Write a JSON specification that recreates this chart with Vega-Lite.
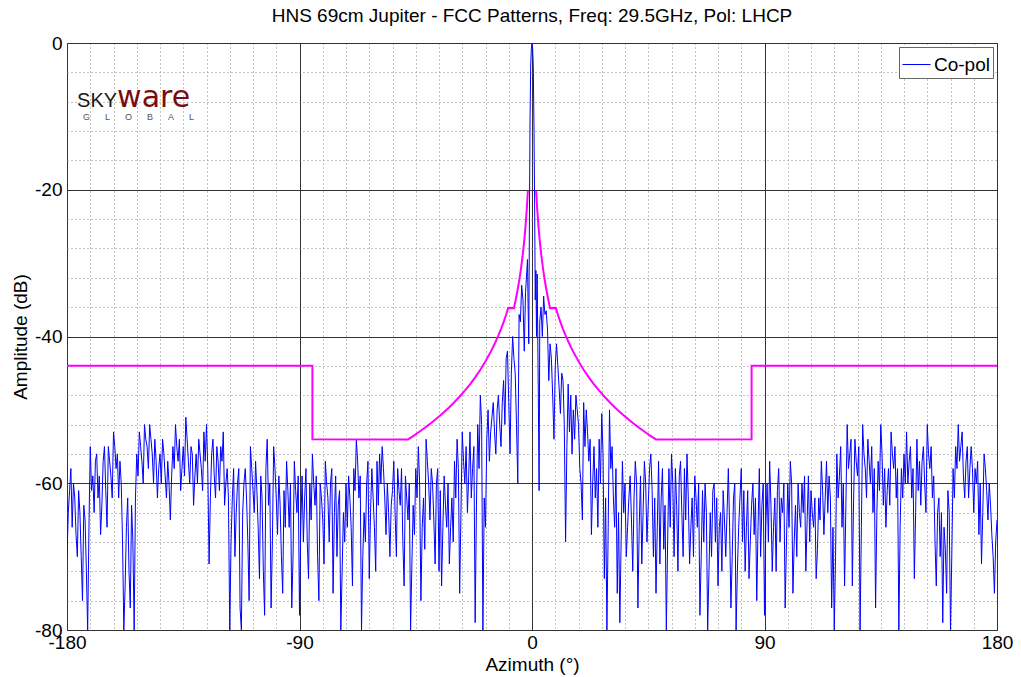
{
"$schema":"https://vega.github.io/schema/vega-lite/v6.json",
"width":930,"height":587,
"autosize":{"type":"none"},
"padding":{"left":67,"top":43,"right":24,"bottom":47},
"config":{"view":{"stroke":"#555","strokeWidth":1},"font":"Liberation Sans"},
"title":{"text":"HNS 69cm Jupiter - FCC Patterns, Freq: 29.5GHz, Pol: LHCP","fontSize":19,"font":"Liberation Sans","fontWeight":"normal","color":"#000","anchor":"middle","frame":"group","offset":8},
"datasets":{
"copol":[
{"az":-180,"dB":-70},{"az":-179.5,"dB":-64},{"az":-179,"dB":-61},{"az":-178.5,"dB":-58},{"az":-178,"dB":-66},{"az":-177.5,"dB":-60},{"az":-177,"dB":-62},{"az":-176.5,"dB":-67},{"az":-176,"dB":-70},{"az":-175.5,"dB":-61},
{"az":-175,"dB":-64},{"az":-174.5,"dB":-70},{"az":-174,"dB":-76},{"az":-173.5,"dB":-63},{"az":-173,"dB":-65},{"az":-172.5,"dB":-72},{"az":-172,"dB":-80},{"az":-171.5,"dB":-66},{"az":-171,"dB":-55},{"az":-170.5,"dB":-61},
{"az":-170,"dB":-59},{"az":-169.5,"dB":-64},{"az":-169,"dB":-57},{"az":-168.5,"dB":-56},{"az":-168,"dB":-62},{"az":-167.5,"dB":-59},{"az":-167,"dB":-67},{"az":-166.5,"dB":-63},{"az":-166,"dB":-57},{"az":-165.5,"dB":-55},
{"az":-165,"dB":-61},{"az":-164.5,"dB":-66},{"az":-164,"dB":-55},{"az":-163.5,"dB":-57},{"az":-163,"dB":-59},{"az":-162.5,"dB":-62},{"az":-162,"dB":-53},{"az":-161.5,"dB":-55},{"az":-161,"dB":-58},{"az":-160.5,"dB":-56},
{"az":-160,"dB":-62},{"az":-159.5,"dB":-57},{"az":-159,"dB":-60},{"az":-158.5,"dB":-68},{"az":-158,"dB":-80},{"az":-157.5,"dB":-74},{"az":-157,"dB":-66},{"az":-156.5,"dB":-62},{"az":-156,"dB":-72},{"az":-155.5,"dB":-77},
{"az":-155,"dB":-63},{"az":-154.5,"dB":-68},{"az":-154,"dB":-80},{"az":-153.5,"dB":-62},{"az":-153,"dB":-56},{"az":-152.5,"dB":-59},{"az":-152,"dB":-53},{"az":-151.5,"dB":-55},{"az":-151,"dB":-57},{"az":-150.5,"dB":-60},
{"az":-150,"dB":-52},{"az":-149.5,"dB":-54},{"az":-149,"dB":-55},{"az":-148.5,"dB":-58},{"az":-148,"dB":-52},{"az":-147.5,"dB":-54},{"az":-147,"dB":-56},{"az":-146.5,"dB":-60},{"az":-146,"dB":-54},{"az":-145.5,"dB":-57},
{"az":-145,"dB":-62},{"az":-144.5,"dB":-58},{"az":-144,"dB":-56},{"az":-143.5,"dB":-60},{"az":-143,"dB":-54},{"az":-142.5,"dB":-56},{"az":-142,"dB":-59},{"az":-141.5,"dB":-62},{"az":-141,"dB":-57},{"az":-140.5,"dB":-60},
{"az":-140,"dB":-65},{"az":-139.5,"dB":-59},{"az":-139,"dB":-55},{"az":-138.5,"dB":-58},{"az":-138,"dB":-52},{"az":-137.5,"dB":-55},{"az":-137,"dB":-57},{"az":-136.5,"dB":-54},{"az":-136,"dB":-61},{"az":-135.5,"dB":-58},
{"az":-135,"dB":-55},{"az":-134.5,"dB":-59},{"az":-134,"dB":-51},{"az":-133.5,"dB":-54},{"az":-133,"dB":-57},{"az":-132.5,"dB":-60},{"az":-132,"dB":-55},{"az":-131.5,"dB":-56},{"az":-131,"dB":-63},{"az":-130.5,"dB":-59},
{"az":-130,"dB":-56},{"az":-129.5,"dB":-60},{"az":-129,"dB":-54},{"az":-128.5,"dB":-56},{"az":-128,"dB":-58},{"az":-127.5,"dB":-61},{"az":-127,"dB":-53},{"az":-126.5,"dB":-57},{"az":-126,"dB":-52},{"az":-125.5,"dB":-58},
{"az":-125,"dB":-71},{"az":-124.5,"dB":-62},{"az":-124,"dB":-56},{"az":-123.5,"dB":-54},{"az":-123,"dB":-59},{"az":-122.5,"dB":-62},{"az":-122,"dB":-55},{"az":-121.5,"dB":-57},{"az":-121,"dB":-61},{"az":-120.5,"dB":-55},
{"az":-120,"dB":-57},{"az":-119.5,"dB":-53},{"az":-119,"dB":-63},{"az":-118.5,"dB":-60},{"az":-118,"dB":-58},{"az":-117.5,"dB":-62},{"az":-117,"dB":-80},{"az":-116.5,"dB":-68},{"az":-116,"dB":-62},{"az":-115.5,"dB":-58},
{"az":-115,"dB":-70},{"az":-114.5,"dB":-64},{"az":-114,"dB":-60},{"az":-113.5,"dB":-58},{"az":-113,"dB":-77},{"az":-112.5,"dB":-80},{"az":-112,"dB":-64},{"az":-111.5,"dB":-60},{"az":-111,"dB":-58},{"az":-110.5,"dB":-62},
{"az":-110,"dB":-68},{"az":-109.5,"dB":-76},{"az":-109,"dB":-55},{"az":-108.5,"dB":-58},{"az":-108,"dB":-61},{"az":-107.5,"dB":-64},{"az":-107,"dB":-57},{"az":-106.5,"dB":-61},{"az":-106,"dB":-66},{"az":-105.5,"dB":-73},
{"az":-105,"dB":-59},{"az":-104.5,"dB":-62},{"az":-104,"dB":-72},{"az":-103.5,"dB":-78},{"az":-103,"dB":-58},{"az":-102.5,"dB":-54},{"az":-102,"dB":-63},{"az":-101.5,"dB":-60},{"az":-101,"dB":-77},{"az":-100.5,"dB":-68},
{"az":-100,"dB":-55},{"az":-99.5,"dB":-58},{"az":-99,"dB":-62},{"az":-98.5,"dB":-67},{"az":-98,"dB":-59},{"az":-97.5,"dB":-63},{"az":-97,"dB":-70},{"az":-96.5,"dB":-75},{"az":-96,"dB":-61},{"az":-95.5,"dB":-66},
{"az":-95,"dB":-57},{"az":-94.5,"dB":-61},{"az":-94,"dB":-66},{"az":-93.5,"dB":-60},{"az":-93,"dB":-77},{"az":-92.5,"dB":-70},{"az":-92,"dB":-57},{"az":-91.5,"dB":-61},{"az":-91,"dB":-64},{"az":-90.5,"dB":-59},
{"az":-90,"dB":-78},{"az":-89.5,"dB":-66},{"az":-89,"dB":-59},{"az":-88.5,"dB":-68},{"az":-88,"dB":-62},{"az":-87.5,"dB":-58},{"az":-87,"dB":-68},{"az":-86.5,"dB":-73},{"az":-86,"dB":-60},{"az":-85.5,"dB":-65},
{"az":-85,"dB":-56},{"az":-84.5,"dB":-60},{"az":-84,"dB":-63},{"az":-83.5,"dB":-59},{"az":-83,"dB":-70},{"az":-82.5,"dB":-76},{"az":-82,"dB":-60},{"az":-81.5,"dB":-62},{"az":-81,"dB":-65},{"az":-80.5,"dB":-71},
{"az":-80,"dB":-57},{"az":-79.5,"dB":-60},{"az":-79,"dB":-62},{"az":-78.5,"dB":-68},{"az":-78,"dB":-60},{"az":-77.5,"dB":-58},{"az":-77,"dB":-75},{"az":-76.5,"dB":-64},{"az":-76,"dB":-59},{"az":-75.5,"dB":-70},
{"az":-75,"dB":-63},{"az":-74.5,"dB":-61},{"az":-74,"dB":-80},{"az":-73.5,"dB":-72},{"az":-73,"dB":-64},{"az":-72.5,"dB":-68},{"az":-72,"dB":-60},{"az":-71.5,"dB":-66},{"az":-71,"dB":-59},{"az":-70.5,"dB":-62},
{"az":-70,"dB":-66},{"az":-69.5,"dB":-74},{"az":-69,"dB":-58},{"az":-68.5,"dB":-61},{"az":-68,"dB":-54},{"az":-67.5,"dB":-57},{"az":-67,"dB":-62},{"az":-66.5,"dB":-59},{"az":-66,"dB":-80},{"az":-65.5,"dB":-70},
{"az":-65,"dB":-64},{"az":-64.5,"dB":-68},{"az":-64,"dB":-60},{"az":-63.5,"dB":-57},{"az":-63,"dB":-73},{"az":-62.5,"dB":-64},{"az":-62,"dB":-58},{"az":-61.5,"dB":-62},{"az":-61,"dB":-66},{"az":-60.5,"dB":-72},
{"az":-60,"dB":-57},{"az":-59.5,"dB":-63},{"az":-59,"dB":-56},{"az":-58.5,"dB":-60},{"az":-58,"dB":-55},{"az":-57.5,"dB":-58},{"az":-57,"dB":-62},{"az":-56.5,"dB":-67},{"az":-56,"dB":-60},{"az":-55.5,"dB":-64},
{"az":-55,"dB":-70},{"az":-54.5,"dB":-63},{"az":-54,"dB":-61},{"az":-53.5,"dB":-57},{"az":-53,"dB":-64},{"az":-52.5,"dB":-70},{"az":-52,"dB":-58},{"az":-51.5,"dB":-61},{"az":-51,"dB":-63},{"az":-50.5,"dB":-58},
{"az":-50,"dB":-68},{"az":-49.5,"dB":-74},{"az":-49,"dB":-59},{"az":-48.5,"dB":-62},{"az":-48,"dB":-65},{"az":-47.5,"dB":-60},{"az":-47,"dB":-80},{"az":-46.5,"dB":-71},{"az":-46,"dB":-63},{"az":-45.5,"dB":-67},
{"az":-45,"dB":-58},{"az":-44.5,"dB":-62},{"az":-44,"dB":-55},{"az":-43.5,"dB":-60},{"az":-43,"dB":-76},{"az":-42.5,"dB":-66},{"az":-42,"dB":-62},{"az":-41.5,"dB":-69},{"az":-41,"dB":-54},{"az":-40.5,"dB":-57},
{"az":-40,"dB":-60},{"az":-39.5,"dB":-65},{"az":-39,"dB":-58},{"az":-38.5,"dB":-60},{"az":-38,"dB":-65},{"az":-37.5,"dB":-71},{"az":-37,"dB":-60},{"az":-36.5,"dB":-58},{"az":-36,"dB":-72},{"az":-35.5,"dB":-61},
{"az":-35,"dB":-74},{"az":-34.5,"dB":-66},{"az":-34,"dB":-59},{"az":-33.5,"dB":-63},{"az":-33,"dB":-66},{"az":-32.5,"dB":-60},{"az":-32,"dB":-71},{"az":-31.5,"dB":-66},{"az":-31,"dB":-62},{"az":-30.5,"dB":-68},
{"az":-30,"dB":-57},{"az":-29.5,"dB":-62},{"az":-29,"dB":-54},{"az":-28.5,"dB":-58},{"az":-28,"dB":-75},{"az":-27.5,"dB":-64},{"az":-27,"dB":-53},{"az":-26.5,"dB":-57},{"az":-26,"dB":-60},{"az":-25.5,"dB":-55},
{"az":-25,"dB":-64},{"az":-24.5,"dB":-59},{"az":-24,"dB":-53},{"az":-23.5,"dB":-62},{"az":-23,"dB":-58},{"az":-22.5,"dB":-55},{"az":-22,"dB":-79},{"az":-21.5,"dB":-63},{"az":-21,"dB":-52},{"az":-20.5,"dB":-58},
{"az":-20,"dB":-48},{"az":-19.5,"dB":-52},{"az":-19,"dB":-80},{"az":-18.5,"dB":-62},{"az":-18,"dB":-66},{"az":-17.5,"dB":-54},{"az":-17,"dB":-50},{"az":-16.5,"dB":-57},{"az":-16,"dB":-53},{"az":-15.5,"dB":-51},
{"az":-15,"dB":-49},{"az":-14.5,"dB":-53},{"az":-14,"dB":-56},{"az":-13.5,"dB":-50},{"az":-13,"dB":-48},{"az":-12.5,"dB":-52},{"az":-12,"dB":-55},{"az":-11.5,"dB":-49},{"az":-11,"dB":-46},{"az":-10.5,"dB":-52},
{"az":-10,"dB":-43},{"az":-9.5,"dB":-42},{"az":-9,"dB":-49},{"az":-8.5,"dB":-56},{"az":-8,"dB":-45},{"az":-7.5,"dB":-40},{"az":-7,"dB":-43},{"az":-6.5,"dB":-45},{"az":-6,"dB":-52},{"az":-5.5,"dB":-60},
{"az":-5,"dB":-37},{"az":-4.5,"dB":-38},{"az":-4,"dB":-33},{"az":-3.5,"dB":-35},{"az":-3,"dB":-42},{"az":-2.5,"dB":-34},{"az":-2,"dB":-31},{"az":-1.75,"dB":-29.5},{"az":-1.5,"dB":-36},{"az":-1.25,"dB":-41},
{"az":-1,"dB":-24},{"az":-0.75,"dB":-10},{"az":-0.5,"dB":-3},{"az":-0.25,"dB":-0.8},{"az":0,"dB":0},{"az":0.25,"dB":-0.8},{"az":0.5,"dB":-3.2},{"az":0.75,"dB":-11},{"az":1,"dB":-21},{"az":1.25,"dB":-35},
{"az":1.5,"dB":-31},{"az":1.75,"dB":-40},{"az":2,"dB":-31.5},{"az":2.5,"dB":-50},{"az":2.75,"dB":-61},{"az":3,"dB":-38},{"az":3.5,"dB":-36},{"az":4,"dB":-40},{"az":4.5,"dB":-34.5},{"az":5,"dB":-37},
{"az":5.5,"dB":-36.5},{"az":6,"dB":-39},{"az":6.5,"dB":-46},{"az":7,"dB":-41},{"az":7.5,"dB":-43},{"az":8,"dB":-48},{"az":8.5,"dB":-54},{"az":9,"dB":-44},{"az":9.5,"dB":-41},{"az":10,"dB":-44},
{"az":10.5,"dB":-47},{"az":11,"dB":-50.5},{"az":11.5,"dB":-45},{"az":12,"dB":-46},{"az":12.5,"dB":-52},{"az":13,"dB":-68},{"az":13.5,"dB":-55},{"az":14,"dB":-46.5},{"az":14.5,"dB":-53},{"az":15,"dB":-48},
{"az":15.5,"dB":-56},{"az":16,"dB":-50},{"az":16.5,"dB":-54},{"az":17,"dB":-48},{"az":17.5,"dB":-50},{"az":18,"dB":-52},{"az":18.5,"dB":-58},{"az":19,"dB":-60},{"az":19.5,"dB":-65},{"az":20,"dB":-49},
{"az":20.5,"dB":-55},{"az":21,"dB":-50},{"az":21.5,"dB":-53},{"az":22,"dB":-57},{"az":22.5,"dB":-54},{"az":23,"dB":-67},{"az":23.5,"dB":-60},{"az":24,"dB":-55},{"az":24.5,"dB":-62},{"az":25,"dB":-58},
{"az":25.5,"dB":-66},{"az":26,"dB":-54},{"az":26.5,"dB":-60},{"az":27,"dB":-50.5},{"az":27.5,"dB":-56},{"az":28,"dB":-73},{"az":28.5,"dB":-62},{"az":29,"dB":-80},{"az":29.5,"dB":-66},{"az":30,"dB":-50},
{"az":30.5,"dB":-58},{"az":31,"dB":-55},{"az":31.5,"dB":-62},{"az":32,"dB":-66},{"az":32.5,"dB":-58},{"az":33,"dB":-75},{"az":33.5,"dB":-64},{"az":34,"dB":-79},{"az":34.5,"dB":-68},{"az":35,"dB":-57},
{"az":35.5,"dB":-64},{"az":36,"dB":-60},{"az":36.5,"dB":-70},{"az":37,"dB":-66},{"az":37.5,"dB":-62},{"az":38,"dB":-59},{"az":38.5,"dB":-65},{"az":39,"dB":-72},{"az":39.5,"dB":-62},{"az":40,"dB":-57},
{"az":40.5,"dB":-60},{"az":41,"dB":-77},{"az":41.5,"dB":-66},{"az":42,"dB":-59},{"az":42.5,"dB":-71},{"az":43,"dB":-64},{"az":43.5,"dB":-57},{"az":44,"dB":-60},{"az":44.5,"dB":-68},{"az":45,"dB":-63},
{"az":45.5,"dB":-58},{"az":46,"dB":-56},{"az":46.5,"dB":-61},{"az":47,"dB":-70},{"az":47.5,"dB":-62},{"az":48,"dB":-75},{"az":48.5,"dB":-66},{"az":49,"dB":-57},{"az":49.5,"dB":-71},{"az":50,"dB":-62},
{"az":50.5,"dB":-58},{"az":51,"dB":-69},{"az":51.5,"dB":-63},{"az":52,"dB":-80},{"az":52.5,"dB":-68},{"az":53,"dB":-58},{"az":53.5,"dB":-66},{"az":54,"dB":-56},{"az":54.5,"dB":-60},{"az":55,"dB":-70},
{"az":55.5,"dB":-58},{"az":56,"dB":-63},{"az":56.5,"dB":-72},{"az":57,"dB":-59},{"az":57.5,"dB":-57},{"az":58,"dB":-64},{"az":58.5,"dB":-70},{"az":59,"dB":-58},{"az":59.5,"dB":-65},{"az":60,"dB":-56},
{"az":60.5,"dB":-62},{"az":61,"dB":-71},{"az":61.5,"dB":-66},{"az":62,"dB":-62},{"az":62.5,"dB":-70},{"az":63,"dB":-59},{"az":63.5,"dB":-62},{"az":64,"dB":-66},{"az":64.5,"dB":-60},{"az":65,"dB":-78},
{"az":65.5,"dB":-70},{"az":66,"dB":-61},{"az":66.5,"dB":-68},{"az":67,"dB":-60},{"az":67.5,"dB":-64},{"az":68,"dB":-80},{"az":68.5,"dB":-72},{"az":69,"dB":-64},{"az":69.5,"dB":-70},{"az":70,"dB":-61},
{"az":70.5,"dB":-60},{"az":71,"dB":-68},{"az":71.5,"dB":-62},{"az":72,"dB":-74},{"az":72.5,"dB":-66},{"az":73,"dB":-64},{"az":73.5,"dB":-72},{"az":74,"dB":-61},{"az":74.5,"dB":-65},{"az":75,"dB":-70},
{"az":75.5,"dB":-64},{"az":76,"dB":-58},{"az":76.5,"dB":-66},{"az":77,"dB":-77},{"az":77.5,"dB":-70},{"az":78,"dB":-62},{"az":78.5,"dB":-60},{"az":79,"dB":-80},{"az":79.5,"dB":-72},{"az":80,"dB":-66},
{"az":80.5,"dB":-62},{"az":81,"dB":-58},{"az":81.5,"dB":-68},{"az":82,"dB":-61},{"az":82.5,"dB":-72},{"az":83,"dB":-66},{"az":83.5,"dB":-61},{"az":84,"dB":-73},{"az":84.5,"dB":-68},{"az":85,"dB":-63},
{"az":85.5,"dB":-60},{"az":86,"dB":-67},{"az":86.5,"dB":-62},{"az":87,"dB":-76},{"az":87.5,"dB":-66},{"az":88,"dB":-58},{"az":88.5,"dB":-70},{"az":89,"dB":-63},{"az":89.5,"dB":-60},{"az":90,"dB":-78},
{"az":90.5,"dB":-66},{"az":91,"dB":-60},{"az":91.5,"dB":-68},{"az":92,"dB":-57},{"az":92.5,"dB":-63},{"az":93,"dB":-72},{"az":93.5,"dB":-66},{"az":94,"dB":-62},{"az":94.5,"dB":-72},{"az":95,"dB":-61},
{"az":95.5,"dB":-58},{"az":96,"dB":-68},{"az":96.5,"dB":-62},{"az":97,"dB":-64},{"az":97.5,"dB":-60},{"az":98,"dB":-77},{"az":98.5,"dB":-68},{"az":99,"dB":-60},{"az":99.5,"dB":-66},{"az":100,"dB":-57},
{"az":100.5,"dB":-60},{"az":101,"dB":-75},{"az":101.5,"dB":-68},{"az":102,"dB":-63},{"az":102.5,"dB":-70},{"az":103,"dB":-60},{"az":103.5,"dB":-64},{"az":104,"dB":-66},{"az":104.5,"dB":-60},{"az":105,"dB":-64},
{"az":105.5,"dB":-59},{"az":106,"dB":-72},{"az":106.5,"dB":-65},{"az":107,"dB":-59},{"az":107.5,"dB":-68},{"az":108,"dB":-61},{"az":108.5,"dB":-64},{"az":109,"dB":-66},{"az":109.5,"dB":-62},{"az":110,"dB":-73},
{"az":110.5,"dB":-69},{"az":111,"dB":-62},{"az":111.5,"dB":-65},{"az":112,"dB":-57},{"az":112.5,"dB":-61},{"az":113,"dB":-67},{"az":113.5,"dB":-62},{"az":114,"dB":-57},{"az":114.5,"dB":-64},{"az":115,"dB":-59},
{"az":115.5,"dB":-62},{"az":116,"dB":-77},{"az":116.5,"dB":-66},{"az":117,"dB":-80},{"az":117.5,"dB":-70},{"az":118,"dB":-56},{"az":118.5,"dB":-62},{"az":119,"dB":-59},{"az":119.5,"dB":-55},{"az":120,"dB":-66},
{"az":120.5,"dB":-60},{"az":121,"dB":-74},{"az":121.5,"dB":-63},{"az":122,"dB":-52},{"az":122.5,"dB":-58},{"az":123,"dB":-56},{"az":123.5,"dB":-54},{"az":124,"dB":-74},{"az":124.5,"dB":-62},{"az":125,"dB":-54},
{"az":125.5,"dB":-57},{"az":126,"dB":-59},{"az":126.5,"dB":-55},{"az":127,"dB":-80},{"az":127.5,"dB":-66},{"az":128,"dB":-52},{"az":128.5,"dB":-56},{"az":129,"dB":-58},{"az":129.5,"dB":-62},{"az":130,"dB":-54},
{"az":130.5,"dB":-57},{"az":131,"dB":-60},{"az":131.5,"dB":-55},{"az":132,"dB":-64},{"az":132.5,"dB":-58},{"az":133,"dB":-77},{"az":133.5,"dB":-64},{"az":134,"dB":-57},{"az":134.5,"dB":-61},{"az":135,"dB":-52},
{"az":135.5,"dB":-56},{"az":136,"dB":-63},{"az":136.5,"dB":-58},{"az":137,"dB":-66},{"az":137.5,"dB":-61},{"az":138,"dB":-58},{"az":138.5,"dB":-63},{"az":139,"dB":-53},{"az":139.5,"dB":-56},{"az":140,"dB":-58},
{"az":140.5,"dB":-55},{"az":141,"dB":-62},{"az":141.5,"dB":-58},{"az":142,"dB":-80},{"az":142.5,"dB":-66},{"az":143,"dB":-58},{"az":143.5,"dB":-62},{"az":144,"dB":-56},{"az":144.5,"dB":-60},{"az":145,"dB":-53},
{"az":145.5,"dB":-60},{"az":146,"dB":-57},{"az":146.5,"dB":-55},{"az":147,"dB":-62},{"az":147.5,"dB":-58},{"az":148,"dB":-73},{"az":148.5,"dB":-64},{"az":149,"dB":-54},{"az":149.5,"dB":-61},{"az":150,"dB":-57},
{"az":150.5,"dB":-63},{"az":151,"dB":-57},{"az":151.5,"dB":-55},{"az":152,"dB":-60},{"az":152.5,"dB":-64},{"az":153,"dB":-52},{"az":153.5,"dB":-56},{"az":154,"dB":-58},{"az":154.5,"dB":-55},{"az":155,"dB":-62},
{"az":155.5,"dB":-59},{"az":156,"dB":-68},{"az":156.5,"dB":-74},{"az":157,"dB":-64},{"az":157.5,"dB":-62},{"az":158,"dB":-70},{"az":158.5,"dB":-64},{"az":159,"dB":-79},{"az":159.5,"dB":-66},{"az":160,"dB":-69},
{"az":160.5,"dB":-75},{"az":161,"dB":-61},{"az":161.5,"dB":-64},{"az":162,"dB":-80},{"az":162.5,"dB":-70},{"az":163,"dB":-58},{"az":163.5,"dB":-62},{"az":164,"dB":-55},{"az":164.5,"dB":-58},{"az":165,"dB":-52},
{"az":165.5,"dB":-57},{"az":166,"dB":-55},{"az":166.5,"dB":-53},{"az":167,"dB":-59},{"az":167.5,"dB":-62},{"az":168,"dB":-57},{"az":168.5,"dB":-55},{"az":169,"dB":-62},{"az":169.5,"dB":-58},{"az":170,"dB":-55},
{"az":170.5,"dB":-58},{"az":171,"dB":-64},{"az":171.5,"dB":-58},{"az":172,"dB":-60},{"az":172.5,"dB":-57},{"az":173,"dB":-67},{"az":173.5,"dB":-60},{"az":174,"dB":-71},{"az":174.5,"dB":-64},{"az":175,"dB":-56},
{"az":175.5,"dB":-58},{"az":176,"dB":-61},{"az":176.5,"dB":-65},{"az":177,"dB":-60},{"az":177.5,"dB":-63},{"az":178,"dB":-67},{"az":178.5,"dB":-70},{"az":179,"dB":-75},{"az":179.5,"dB":-68},{"az":180,"dB":-65}
],
"mask":[
{"az":-180,"dB":-44,"side":"L"},{"az":-85.01,"dB":-44,"side":"L"},{"az":-85,"dB":-54,"side":"L"},{"az":-48,"dB":-54.03,"side":"L"},{"az":-46,"dB":-53.57,"side":"L"},{"az":-44,"dB":-53.09,"side":"L"},{"az":-42,"dB":-52.58,"side":"L"},{"az":-40,"dB":-52.05,"side":"L"},{"az":-38,"dB":-51.49,"side":"L"},{"az":-36,"dB":-50.91,"side":"L"},{"az":-34,"dB":-50.29,"side":"L"},{"az":-32,"dB":-49.63,"side":"L"},{"az":-30,"dB":-48.93,"side":"L"},{"az":-28,"dB":-48.18,"side":"L"},{"az":-26,"dB":-47.37,"side":"L"},{"az":-24,"dB":-46.51,"side":"L"},{"az":-22,"dB":-45.56,"side":"L"},{"az":-20,"dB":-44.53,"side":"L"},{"az":-18,"dB":-43.38,"side":"L"},{"az":-16,"dB":-42.1,"side":"L"},{"az":-15,"dB":-41.4,"side":"L"},{"az":-14,"dB":-40.65,"side":"L"},{"az":-13,"dB":-39.85,"side":"L"},{"az":-12,"dB":-38.98,"side":"L"},{"az":-11,"dB":-38.03,"side":"L"},{"az":-10,"dB":-37,"side":"L"},{"az":-9.2,"dB":-36.1,"side":"L"},{"az":-7,"dB":-36.13,"side":"L"},{"az":-6.5,"dB":-35.32,"side":"L"},{"az":-6,"dB":-34.45,"side":"L"},{"az":-5.5,"dB":-33.51,"side":"L"},{"az":-5,"dB":-32.47,"side":"L"},{"az":-4.5,"dB":-31.33,"side":"L"},{"az":-4,"dB":-30.05,"side":"L"},{"az":-3.5,"dB":-28.6,"side":"L"},{"az":-3,"dB":-26.93,"side":"L"},{"az":-2.5,"dB":-24.95,"side":"L"},{"az":-2,"dB":-22.53,"side":"L"},{"az":-1.6,"dB":-20.1,"side":"L"},
{"az":1.6,"dB":-20.1,"side":"R"},{"az":2,"dB":-22.53,"side":"R"},{"az":2.5,"dB":-24.95,"side":"R"},{"az":3,"dB":-26.93,"side":"R"},{"az":3.5,"dB":-28.6,"side":"R"},{"az":4,"dB":-30.05,"side":"R"},{"az":4.5,"dB":-31.33,"side":"R"},{"az":5,"dB":-32.47,"side":"R"},{"az":5.5,"dB":-33.51,"side":"R"},{"az":6,"dB":-34.45,"side":"R"},{"az":6.5,"dB":-35.32,"side":"R"},{"az":7,"dB":-36.13,"side":"R"},{"az":9.2,"dB":-36.1,"side":"R"},{"az":10,"dB":-37,"side":"R"},{"az":11,"dB":-38.03,"side":"R"},{"az":12,"dB":-38.98,"side":"R"},{"az":13,"dB":-39.85,"side":"R"},{"az":14,"dB":-40.65,"side":"R"},{"az":15,"dB":-41.4,"side":"R"},{"az":16,"dB":-42.1,"side":"R"},{"az":18,"dB":-43.38,"side":"R"},{"az":20,"dB":-44.53,"side":"R"},{"az":22,"dB":-45.56,"side":"R"},{"az":24,"dB":-46.51,"side":"R"},{"az":26,"dB":-47.37,"side":"R"},{"az":28,"dB":-48.18,"side":"R"},{"az":30,"dB":-48.93,"side":"R"},{"az":32,"dB":-49.63,"side":"R"},{"az":34,"dB":-50.29,"side":"R"},{"az":36,"dB":-50.91,"side":"R"},{"az":38,"dB":-51.49,"side":"R"},{"az":40,"dB":-52.05,"side":"R"},{"az":42,"dB":-52.58,"side":"R"},{"az":44,"dB":-53.09,"side":"R"},{"az":46,"dB":-53.57,"side":"R"},{"az":48,"dB":-54.03,"side":"R"},{"az":85,"dB":-54,"side":"R"},{"az":85.01,"dB":-44,"side":"R"},{"az":180,"dB":-44,"side":"R"}
]
},
"layer":[
{"data":{"name":"copol"},
 "mark":{"type":"line","strokeWidth":1,"clip":true},
 "encoding":{
  "x":{"field":"az","type":"quantitative","scale":{"domain":[-180,180],"nice":false,"zero":false},
       "axis":{"orient":"bottom","values":[-171,-162,-153,-144,-135,-126,-117,-108,-99,-81,-72,-63,-54,-45,-36,-27,-18,-9,9,18,27,36,45,54,63,72,81,99,108,117,126,135,144,153,162,171],"grid":true,"gridColor":"#888","gridDash":[1,3],"gridWidth":1,"labels":false,"ticks":false,"domain":false,"title":null}},
  "y":{"field":"dB","type":"quantitative","scale":{"domain":[-80,0],"nice":false,"zero":false},
       "axis":{"orient":"left","values":[-76,-72,-68,-64,-56,-52,-48,-44,-36,-32,-28,-24,-16,-12,-8,-4],"grid":true,"gridColor":"#888","gridDash":[1,3],"gridWidth":1,"labels":false,"ticks":false,"domain":false,"title":null}},
  "color":{"datum":"Co-pol","type":"nominal","scale":{"range":["#0000ff"]},
       "legend":{"orient":"top-right","offset":4,"title":null,"symbolType":"stroke","symbolSize":784,"symbolStrokeWidth":1,"labelFontSize":19,"labelFont":"Liberation Sans","labelColor":"#000","strokeColor":"#666","fillColor":"#fff","padding":3,"labelOffset":3}}
 }},
{"data":{"name":"mask"},
 "mark":{"type":"line","strokeWidth":2,"color":"#ff00ff","clip":true},
 "encoding":{
  "x":{"field":"az","type":"quantitative",
       "axis":{"orient":"bottom","values":[-180,-90,0,90,180],"labelExpr":"replace(datum.label, '−', '-')","grid":true,"gridColor":"#333","gridWidth":1,"labelFontSize":19,"labelFont":"Liberation Sans","labelColor":"#000","labelFlush":false,"labelOverlap":false,"labelPadding":3,"ticks":false,"domain":false,"title":"Azimuth (°)","titleFontSize":19,"titleFont":"Liberation Sans","titleFontWeight":"normal","titleColor":"#000","titlePadding":3}},
  "y":{"field":"dB","type":"quantitative",
       "axis":{"orient":"left","values":[-80,-60,-40,-20,0],"labelExpr":"replace(datum.label, '−', '-')","grid":true,"gridColor":"#333","gridWidth":1,"labelFontSize":19,"labelFont":"Liberation Sans","labelColor":"#000","labelFlush":false,"labelOverlap":false,"labelPadding":5,"ticks":false,"domain":false,"title":"Amplitude (dB)","titleFontSize":19,"titleFont":"Liberation Sans","titleFontWeight":"normal","titleColor":"#000","titlePadding":4}},
  "detail":{"field":"side","type":"nominal"}
 }},
{"data":{"values":[{}]},
 "mark":{"type":"text","text":"SKY","align":"right","baseline":"alphabetic","fontSize":20,"font":"Liberation Sans","color":"#1a1a1a"},
 "encoding":{"x":{"datum":-160.6,"type":"quantitative","axis":null},"y":{"datum":-8.72,"type":"quantitative","axis":null}}},
{"data":{"values":[{}]},
 "mark":{"type":"text","text":"ware","align":"left","baseline":"alphabetic","fontSize":30,"font":"DejaVu Sans","color":"#7a0c0c"},
 "encoding":{"x":{"datum":-160.6,"type":"quantitative","axis":null},"y":{"datum":-8.72,"type":"quantitative","axis":null}}},
{"data":{"values":[{}]},
 "mark":{"type":"text","text":"G\u00a0\u00a0\u00a0\u00a0\u00a0\u00a0L\u00a0\u00a0\u00a0\u00a0\u00a0\u00a0O\u00a0\u00a0\u00a0\u00a0\u00a0\u00a0B\u00a0\u00a0\u00a0\u00a0\u00a0\u00a0A\u00a0\u00a0\u00a0\u00a0\u00a0\u00a0L","align":"left","baseline":"middle","fontSize":9,"font":"Liberation Sans","color":"#555"},
 "encoding":{"x":{"datum":-173.8,"type":"quantitative","axis":null},"y":{"datum":-10.1,"type":"quantitative","axis":null}}}
],
"resolve":{"axis":{"x":"independent","y":"independent"}}
}
